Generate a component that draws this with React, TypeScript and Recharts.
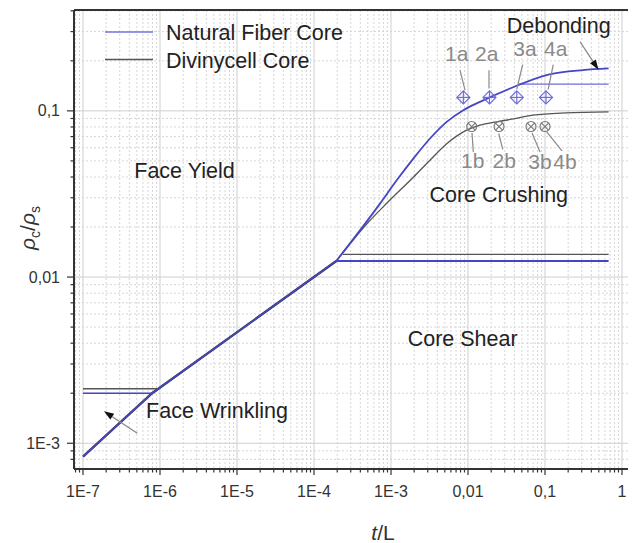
import React from 'react';
import {
  ComposedChart, Line, Scatter, XAxis, YAxis, CartesianGrid, ReferenceLine, ReferenceDot, Legend, Label,
} from 'recharts';

const FONT = '"Liberation Sans", Arial, Helvetica, sans-serif';
const BLUE = '#4646c4';
const BLUE_LIGHT = '#6e6ed8';
const GRAY = '#555555';
const LABEL_GRAY = '#8a8a8a';

// log axes, plot runs a bit past 1 on the right (cropped in the original)
const X_MIN = 7.64e-8;
const X_MAX = 1.52;
const Y_MIN = 7.0e-4;
const Y_MAX = 0.4045;

const xMajorTicks = [1e-7, 1e-6, 1e-5, 1e-4, 1e-3, 0.01, 0.1, 1];
const xTickLabels = ['1E-7', '1E-6', '1E-5', '1E-4', '1E-3', '0,01', '0,1', '1'];
const yMajorTicks = [1e-3, 0.01, 0.1];
const yTickLabels = ['1E-3', '0,01', '0,1'];
const minorMantissas = [2, 3, 4, 5, 6, 7, 8, 9];
const xDecades = [1e-8, 1e-7, 1e-6, 1e-5, 1e-4, 1e-3, 0.01, 0.1, 1];
const yDecades = [1e-4, 1e-3, 0.01, 0.1];

// face wrinkling -> face yield boundary (both cores)
const diagonalX = [1e-7, 7.9e-7, 1.95e-4];
const diagonalY = [0.00083, 0.002, 0.0125];

// natural fiber core
const fiberWrinkleX = [1e-7, 7.9e-7];
const fiberWrinkleY = [0.002, 0.002];
const fiberCrushX = [1.95e-4, 7.2e-4, 1.186e-3, 1.95e-3, 3.21e-3, 5.29e-3, 8.69e-3, 0.01432, 0.0351, 0.114, 0.309, 0.67];
const fiberCrushY = [0.0125, 0.02767, 0.0382, 0.0516, 0.0682, 0.0859, 0.101, 0.1133, 0.1364, 0.166, 0.176, 0.18];
const fiberShearX = [1.95e-4, 0.67];
const fiberShearY = [0.0125, 0.0125];
const fiberDebondX = [0.046, 0.67];
const fiberDebondY = [0.145, 0.145];

// divinycell core
const diviWrinkleX = [1e-7, 9.5e-7];
const diviWrinkleY = [0.00213, 0.00213];
const diviCrushX = [1.95e-4, 5.07e-4, 8.8e-4, 1.95e-3, 3.21e-3, 5.29e-3, 9.62e-3, 0.01432, 0.0236, 0.0351, 0.0692, 0.1875, 0.67];
const diviCrushY = [0.0125, 0.02136, 0.0278, 0.03987, 0.05046, 0.0634, 0.0765, 0.082, 0.0859, 0.08875, 0.0942, 0.0973, 0.0986];
const diviShearX = [2.38e-4, 0.67];
const diviShearY = [0.0137, 0.0137];

// tested specimens
const specimenAX = [0.0087, 0.019, 0.043, 0.103];
const specimenAY = [0.1205, 0.1205, 0.1205, 0.1205];
const specimenBX = [0.01117, 0.0253, 0.0658, 0.1];
const specimenBY = [0.0805, 0.0805, 0.0805, 0.0805];

const legendItems = [
  { name: 'Natural Fiber Core', color: '#7474e0' },
  { name: 'Divinycell Core', color: GRAY },
];

const regionLabels = [
  { text: 'Face Yield', x: 2.08e-6, y: 0.044 },
  { text: 'Core Crushing', x: 0.0251, y: 0.0313 },
  { text: 'Core Shear', x: 0.00853, y: 0.00426 },
  { text: 'Face Wrinkling', x: 5.5e-6, y: 0.00157 },
  { text: 'Debonding', x: 0.151, y: 0.325 },
];

const specimenLabels = [
  { text: '1a', x: 0.00713, y: 0.2218 },
  { text: '2a', x: 0.0175, y: 0.2218 },
  { text: '3a', x: 0.055, y: 0.237 },
  { text: '4a', x: 0.1377, y: 0.237 },
  { text: '1b', x: 0.0115, y: 0.0505 },
  { text: '2b', x: 0.0296, y: 0.0505 },
  { text: '3b', x: 0.0861, y: 0.0493 },
  { text: '4b', x: 0.182, y: 0.0493 },
];

const leaderLines = [
  [[0.00787, 0.1757], [0.00914, 0.1333]],
  [[0.01874, 0.1757], [0.01874, 0.1364]],
  [[0.0513, 0.19], [0.0429, 0.1346]],
  [[0.128, 0.19], [0.11, 0.1346]],
  [[0.01127, 0.0737], [0.01172, 0.0566]],
  [[0.02506, 0.0731], [0.02824, 0.0586]],
  [[0.0678, 0.0737], [0.0861, 0.0566]],
  [[0.1052, 0.0747], [0.1663, 0.0574]],
];

const arrows = [
  [[5.07e-7, 0.001148], [1.87e-7, 0.00156]],
  [[0.285, 0.2606], [0.495, 0.177]],
];

const zip = (xs: number[], ys: number[]) => xs.map((x, i) => ({ x, y: ys[i] }));
const minorOf = (decades: number[], lo: number, hi: number) =>
  decades.flatMap((d) => minorMantissas.map((m) => m * d)).filter((v) => v > lo && v < hi);

const xMinorTicks = minorOf(xDecades, X_MIN, X_MAX);
const yMinorTicks = minorOf(yDecades, Y_MIN, Y_MAX);
const xAllTicks = [...xMinorTicks, ...xMajorTicks].sort((a, b) => a - b);
const yAllTicks = [...yMinorTicks, ...yMajorTicks].sort((a, b) => a - b);

const same = (a: number, b: number) => Math.abs(Math.log10(a) - Math.log10(b)) < 1e-6;

const XTick = (props: any) => {
  const { x, y, payload } = props;
  const idx = xMajorTicks.findIndex((v) => same(v, payload.value));
  return (
    <g>
      <line x1={x} x2={x} y1={y} y2={y + (idx >= 0 ? 6 : 3.5)} stroke="#333" strokeWidth={1.2} />
      {idx >= 0 && (
        <text x={x} y={y + 22} dy="0.35em" textAnchor="middle" fontSize={16} fill="#333" fontFamily={FONT}>
          {xTickLabels[idx]}
        </text>
      )}
    </g>
  );
};

const YTick = (props: any) => {
  const { x, y, payload } = props;
  const idx = yMajorTicks.findIndex((v) => same(v, payload.value));
  return (
    <g>
      <line x1={x - (idx >= 0 ? 7 : 3.5)} x2={x} y1={y} y2={y} stroke="#333" strokeWidth={1.2} />
      {idx >= 0 && (
        <text x={x - 14} y={y} dy="0.35em" textAnchor="end" fontSize={16} fill="#333" fontFamily={FONT}>
          {yTickLabels[idx]}
        </text>
      )}
    </g>
  );
};

const YTitle = (props: any) => {
  const vb = props.viewBox;
  const cx = vb.x + 20;
  const cy = vb.y + vb.height / 2 - 11.5;
  return (
    <text
      x={cx}
      y={cy}
      dy="0.35em"
      textAnchor="middle"
      transform={`rotate(-90, ${cx}, ${cy})`}
      fontSize={21}
      fill="#333"
      fontFamily={FONT}
    >
      <tspan fontStyle="italic">ρ</tspan>
      <tspan fontSize={14} dy={5}>c</tspan>
      <tspan dy={-5}>/</tspan>
      <tspan fontStyle="italic">ρ</tspan>
      <tspan fontSize={14} dy={5}>s</tspan>
    </text>
  );
};

const XTitle = (props: any) => {
  const vb = props.viewBox;
  return (
    <text x={vb.x + 309} y={vb.y + 63.5} dy="0.35em" textAnchor="middle" fontSize={21} fill="#333" fontFamily={FONT}>
      <tspan fontStyle="italic">t</tspan>/L
    </text>
  );
};

const renderLegend = () => (
  <svg width={270} height={60} style={{ display: 'block' }}>
    {legendItems.map((item, i) => (
      <g key={item.name}>
        <line x1={7} x2={55} y1={10 + i * 27.5} y2={10 + i * 27.5} stroke={item.color} strokeWidth={1.5} />
        <text x={68} y={18 + i * 27.5} fontSize={21.5} fill="#222" fontFamily={FONT}>
          {item.name}
        </text>
      </g>
    ))}
  </svg>
);

const Diamond = (props: any) => {
  const { cx, cy } = props;
  const s = 6.5;
  return (
    <g stroke={BLUE_LIGHT} strokeWidth={1.2} fill="none">
      <polygon points={`${cx},${cy - s} ${cx + s},${cy} ${cx},${cy + s} ${cx - s},${cy}`} />
      <line x1={cx - s} x2={cx + s} y1={cy} y2={cy} />
      <line x1={cx} x2={cx} y1={cy - s} y2={cy + s} />
    </g>
  );
};

const CrossCircle = (props: any) => {
  const { cx, cy } = props;
  const r = 5;
  const d = 3.5;
  return (
    <g stroke="#777" strokeWidth={1.1} fill="none">
      <circle cx={cx} cy={cy} r={r} />
      <line x1={cx - d} x2={cx + d} y1={cy - d} y2={cy + d} />
      <line x1={cx - d} x2={cx + d} y1={cy + d} y2={cy - d} />
    </g>
  );
};

const ArrowShape = (props: any) => {
  const { x1, y1, x2, y2 } = props;
  const ang = Math.atan2(y2 - y1, x2 - x1);
  const len = 10;
  const w = 3.5;
  const bx = x2 - len * Math.cos(ang);
  const by = y2 - len * Math.sin(ang);
  const px = -Math.sin(ang) * w;
  const py = Math.cos(ang) * w;
  return (
    <g>
      <line x1={x1} y1={y1} x2={bx} y2={by} stroke="#888" strokeWidth={1.3} />
      <polygon points={`${x2},${y2} ${bx + px},${by + py} ${bx - px},${by - py}`} fill="#111" />
    </g>
  );
};

const textShape = (text: string, color: string, size: number) => (p: any) => (
  <text x={p.cx} y={p.cy} dy="0.35em" textAnchor="middle" fontSize={size} fill={color} fontFamily={FONT}>
    {text}
  </text>
);

const App: React.FC = () => {
  return (
    <div style={{ width: 628, height: 535 }}>
      <ComposedChart width={628} height={535} margin={{ top: 2, right: 0, bottom: 0, left: 0 }}>
        <CartesianGrid
          verticalValues={xMinorTicks}
          horizontalValues={yMinorTicks}
          stroke="#d6d6d6"
          strokeDasharray="2 2"
        />
        <CartesianGrid verticalValues={xMajorTicks} horizontalValues={yMajorTicks} stroke="#cfcfcf" />
        <XAxis
          dataKey="x"
          type="number"
          scale="log"
          domain={[X_MIN, X_MAX]}
          allowDataOverflow
          ticks={xAllTicks}
          interval={0}
          tick={<XTick />}
          tickLine={false}
          tickSize={0}
          tickMargin={0}
          height={74}
          axisLine={{ stroke: '#333', strokeWidth: 2 }}
        >
          <Label content={<XTitle />} />
        </XAxis>
        <YAxis
          dataKey="y"
          type="number"
          scale="log"
          domain={[Y_MIN, Y_MAX]}
          allowDataOverflow
          ticks={yAllTicks}
          interval={0}
          tick={<YTick />}
          tickLine={false}
          tickSize={0}
          tickMargin={0}
          width={66}
          axisLine={{ stroke: '#333', strokeWidth: 2 }}
        >
          <Label content={<YTitle />} />
        </YAxis>
        <ReferenceLine y={Y_MAX} stroke="#333" strokeWidth={2} />

        <Legend
          layout="vertical"
          align="center"
          verticalAlign="middle"
          content={renderLegend}
          wrapperStyle={{ left: 90, top: 14, width: 270, height: 60 }}
        />

        {/* Divinycell core (drawn underneath) */}
        <Line data={zip(diagonalX, diagonalY)} dataKey="y" stroke="#333" strokeWidth={2.4} dot={false} isAnimationActive={false} legendType="none" />
        <Line data={zip(diviWrinkleX, diviWrinkleY)} dataKey="y" stroke={GRAY} strokeWidth={1.5} dot={false} isAnimationActive={false} legendType="none" />
        <Line data={zip(diviShearX, diviShearY)} dataKey="y" stroke={GRAY} strokeWidth={1.2} dot={false} isAnimationActive={false} legendType="none" />
        <Line data={zip(diviCrushX, diviCrushY)} dataKey="y" type="monotone" stroke={GRAY} strokeWidth={1.3} dot={false} isAnimationActive={false} legendType="none" />

        {/* Natural fiber core */}
        <Line data={zip(diagonalX, diagonalY)} dataKey="y" stroke={BLUE} strokeWidth={1.6} dot={false} isAnimationActive={false} legendType="none" />
        <Line data={zip(fiberWrinkleX, fiberWrinkleY)} dataKey="y" stroke={BLUE} strokeWidth={1.5} dot={false} isAnimationActive={false} legendType="none" />
        <Line data={zip(fiberShearX, fiberShearY)} dataKey="y" stroke={BLUE} strokeWidth={2} dot={false} isAnimationActive={false} legendType="none" />
        <Line data={zip(fiberDebondX, fiberDebondY)} dataKey="y" stroke={BLUE_LIGHT} strokeWidth={1.2} dot={false} isAnimationActive={false} legendType="none" />
        <Line data={zip(fiberCrushX, fiberCrushY)} dataKey="y" type="monotone" stroke={BLUE} strokeWidth={1.8} dot={false} isAnimationActive={false} legendType="none" />

        {leaderLines.map((seg, i) => (
          <ReferenceLine
            key={`lead-${i}`}
            segment={[{ x: seg[0][0], y: seg[0][1] }, { x: seg[1][0], y: seg[1][1] }]}
            stroke="#8a8a8a"
            strokeWidth={1.2}
          />
        ))}
        {arrows.map((seg, i) => (
          <ReferenceLine
            key={`arrow-${i}`}
            segment={[{ x: seg[0][0], y: seg[0][1] }, { x: seg[1][0], y: seg[1][1] }]}
            shape={<ArrowShape />}
          />
        ))}

        <Scatter data={zip(specimenAX, specimenAY)} dataKey="y" shape={<Diamond />} isAnimationActive={false} legendType="none" />
        <Scatter data={zip(specimenBX, specimenBY)} dataKey="y" shape={<CrossCircle />} isAnimationActive={false} legendType="none" />

        {regionLabels.map((l) => (
          <ReferenceDot key={l.text} x={l.x} y={l.y} r={1} ifOverflow="visible" shape={textShape(l.text, '#222', 21.5)} />
        ))}
        {specimenLabels.map((l) => (
          <ReferenceDot key={l.text} x={l.x} y={l.y} r={1} ifOverflow="visible" shape={textShape(l.text, LABEL_GRAY, 21)} />
        ))}
      </ComposedChart>
    </div>
  );
};

export default App;
